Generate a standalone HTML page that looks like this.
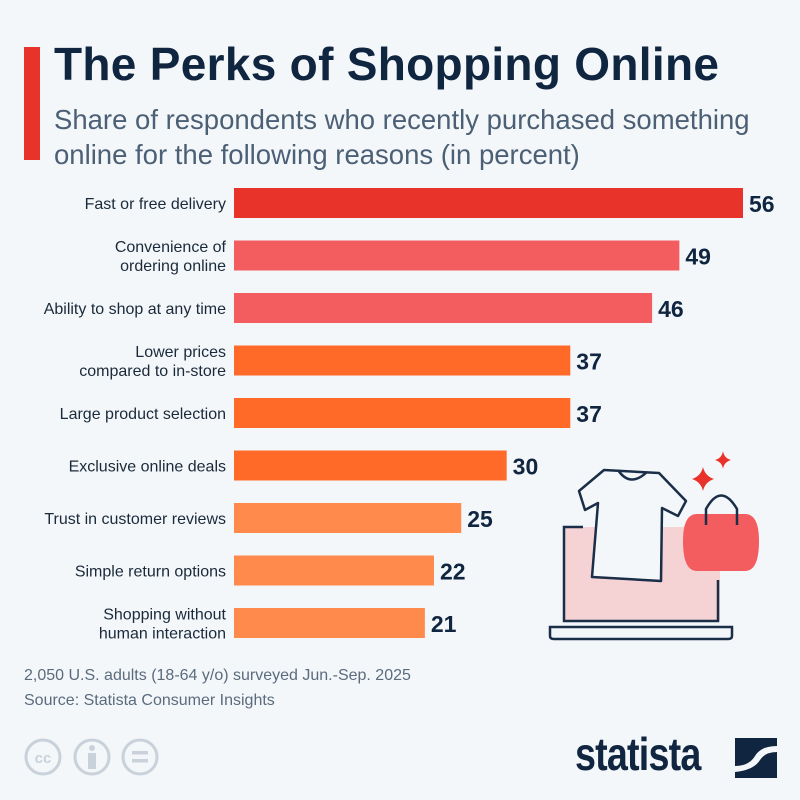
<!DOCTYPE html>
<html><head><meta charset="utf-8"><style>
body{margin:0;width:800px;height:800px;background:#f4f7fa;font-family:"Liberation Sans",sans-serif;overflow:hidden;position:relative}
.t{position:absolute}
</style></head><body>
<div class="t" style="left:24px;top:47px;width:16px;height:113px;background:#e8332a"></div>
<div class="t" style="left:54px;top:37px;font-size:46px;font-weight:bold;color:#0f2540;letter-spacing:0.3px">The Perks of Shopping Online</div>
<div class="t" style="left:54px;top:102px;font-size:27.5px;line-height:35px;color:#4b5f75">Share of respondents who recently purchased something<br>online for the following reasons (in percent)</div>
<svg id="chart" class="t" style="left:0;top:0" width="800" height="800">
<g id="illus">
<rect x="563" y="527" width="157" height="94" fill="#f5d2d4"/>
<path d="M583 527 H564 V621 H718 V580" fill="none" stroke="#1a2e48" stroke-width="2.5"/>
<path d="M550 627 H732 V636 Q732 639 728 639 H554 Q550 639 550 636 Z" fill="#f4f7fa" stroke="#1a2e48" stroke-width="2.5"/>
<path d="M604 470 L579 491 L585 510 L598 503 L592 577 L661 581 L662 508 L678 516 L686 501 L659 473 Z" fill="#f4f7fa" stroke="#1a2e48" stroke-width="2.5" stroke-linejoin="round"/>
<path d="M618 470 Q630 488 647 472" fill="none" stroke="#1a2e48" stroke-width="2.5"/>
<path d="M697 514 Q683 514 683 541 Q683 571 697 571 H745 Q759 571 759 541 Q759 514 745 514 Z" fill="#f35d60"/>
<path d="M706 525 V509 Q721 482 737 509 V525" fill="none" stroke="#1a2e48" stroke-width="2.5"/>
<path d="M703 467 Q705 476 714 479 Q705 482 703 491 Q701 482 692 479 Q701 476 703 467Z" fill="#e8332a"/>
<path d="M723 451 Q724 458 731 460 Q724 462 723 469 Q722 462 715 460 Q722 458 723 451Z" fill="#e8332a"/>
</g>
</svg>
<div class="t" style="left:24px;top:667px;font-size:16px;color:#5a6b7d">2,050 U.S. adults (18-64 y/o) surveyed Jun.-Sep. 2025</div>
<div class="t" style="left:24px;top:692px;font-size:16px;color:#5a6b7d">Source: Statista Consumer Insights</div>
<svg class="t" style="left:20px;top:735px" width="145" height="45">
<circle cx="23" cy="22" r="17" fill="none" stroke="#c9d1da" stroke-width="3"/><text x="23" y="28" font-size="15" font-weight="bold" fill="#c9d1da" text-anchor="middle" font-family="Liberation Sans">cc</text>
<circle cx="72" cy="22" r="17" fill="none" stroke="#c9d1da" stroke-width="3"/><circle cx="72" cy="13" r="3" fill="#c9d1da"/><rect x="68" y="18" width="8" height="16" fill="#c9d1da"/>
<circle cx="120" cy="22" r="17" fill="none" stroke="#c9d1da" stroke-width="3"/><rect x="112" y="16" width="16" height="3.5" fill="#c9d1da"/><rect x="112" y="24" width="16" height="3.5" fill="#c9d1da"/>
</svg>
<div class="t" style="left:575px;top:727px;font-size:46px;font-weight:bold;color:#0f2540;letter-spacing:-1px;transform:scaleX(0.82);transform-origin:left">statista</div>
<svg class="t" style="left:735px;top:738px" width="42" height="40"><rect width="42" height="40" fill="#0f2540"/><path d="M0 28 Q14 28 20 18 Q26 8 42 8 V14 Q30 14 25 22 Q19 32 0 34Z" fill="#f4f7fa"/></svg>
<script>
const categories=[["Fast or free delivery"],["Convenience of","ordering online"],["Ability to shop at any time"],["Lower prices","compared to in-store"],["Large product selection"],["Exclusive online deals"],["Trust in customer reviews"],["Simple return options"],["Shopping without","human interaction"]];
const values=[56,49,46,37,37,30,25,22,21];
const colors=["#e8332a","#f35d60","#f35d60","#ff6a28","#ff6a28","#ff6a28","#ff8a4c","#ff8a4c","#ff8a4c"];
const svg=document.getElementById('chart');
const NS='http://www.w3.org/2000/svg';
const x0=234,scale=(743-234)/56;
const xs=v=>x0+v*scale;
const ys=i=>203+i*52.5;
const illus=document.getElementById('illus');
values.forEach((v,i)=>{
 const r=document.createElementNS(NS,'rect');
 r.setAttribute('x',x0);r.setAttribute('y',ys(i)-15);r.setAttribute('width',xs(v)-x0);r.setAttribute('height',30);r.setAttribute('fill',colors[i]);
 
 
 svg.insertBefore(r,illus);
 const t=document.createElementNS(NS,'text');
 t.setAttribute('x',xs(v)+6);t.setAttribute('y',ys(i)+9);t.setAttribute('font-size','23');t.setAttribute('font-weight','bold');t.setAttribute('fill','#0f2540');t.setAttribute('font-family','Liberation Sans');
 t.textContent=v;
 
 
 svg.appendChild(t);
 const lines=categories[i];
 lines.forEach((ln,j)=>{
  const l=document.createElementNS(NS,'text');
  l.setAttribute('x',226);l.setAttribute('y',ys(i)+6+(j-(lines.length-1)/2)*19);l.setAttribute('text-anchor','end');l.setAttribute('font-size','16');l.setAttribute('fill','#1a2a3a');l.setAttribute('font-family','Liberation Sans');
  l.textContent=ln;
  
  
  svg.appendChild(l);
 });
});
</script>
</body></html>
